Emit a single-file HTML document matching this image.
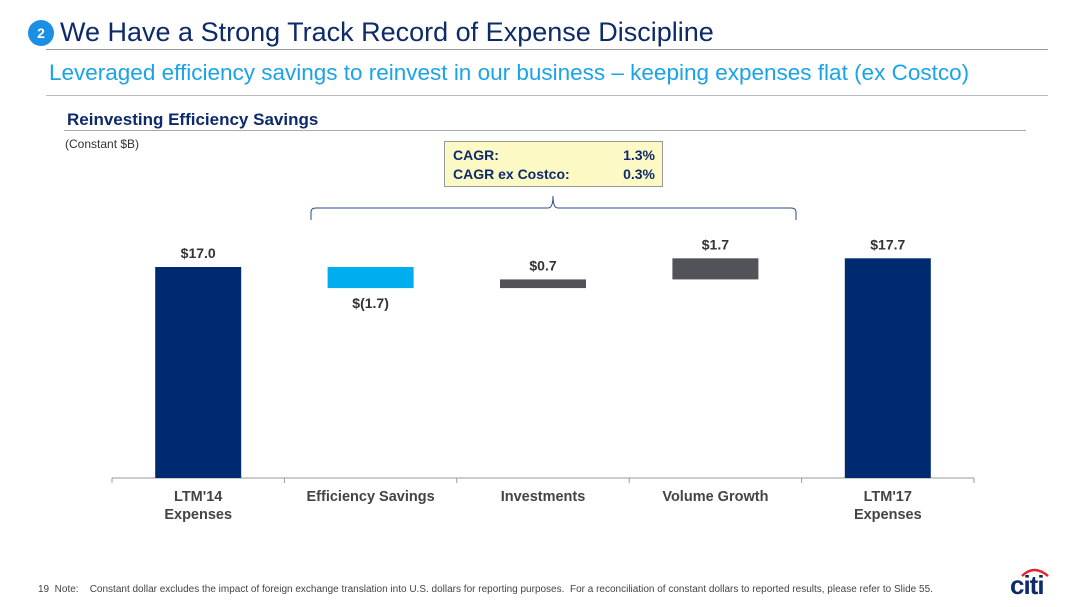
<!DOCTYPE html>
<html><head><meta charset="utf-8"><style>
body{margin:0;width:1080px;height:607px;background:#fff;font-family:"Liberation Sans",sans-serif;position:relative;overflow:hidden}
.a{position:absolute;white-space:nowrap}
</style></head><body>
<div class="a" style="left:28px;top:20px;width:26px;height:26px;border-radius:13px;background:#1a8fe3;color:#fff;font-size:14px;font-weight:bold;text-align:center;line-height:26px">2</div>
<div class="a" style="left:60px;top:17px;font-size:27px;color:#0d2a6b">We Have a Strong Track Record of Expense Discipline</div>
<div class="a" style="left:46px;top:49px;width:1002px;height:1px;background:#999"></div>
<div class="a" style="left:49px;top:60px;font-size:22.5px;color:#1aa3e8">Leveraged efficiency savings to reinvest in our business – keeping expenses flat (ex Costco)</div>
<div class="a" style="left:46px;top:95px;width:1002px;height:1px;background:#bbb"></div>
<div class="a" style="left:67px;top:110px;font-size:17px;font-weight:bold;color:#0d2a6b">Reinvesting Efficiency Savings</div>
<div class="a" style="left:64px;top:130px;width:962px;height:1px;background:#aaa"></div>
<div class="a" style="left:65px;top:137px;font-size:12px;color:#333">(Constant $B)</div>
<div class="a" style="left:444px;top:141px;width:217px;height:44px;background:#fdf9c4;border:1px solid #999;font-size:14px;font-weight:bold;color:#0d2a6b">
<div class="a" style="left:8px;top:5px">CAGR:</div><div class="a" style="right:7px;top:5px">1.3%</div>
<div class="a" style="left:8px;top:24px">CAGR ex Costco:</div><div class="a" style="right:7px;top:24px">0.3%</div></div>
<svg class="a" style="left:0;top:0" width="1080" height="607"><path d="M311 220 L311 212 Q311 208 316 208 L548 208 Q553 208 553 196 Q553 208 558 208 L791 208 Q796 208 796 212 L796 220" fill="none" stroke="#2a4a8a" stroke-width="1"/></svg>
<svg id="chart" class="a" style="left:0;top:0" width="1080" height="607"></svg>
<div class="a" style="left:38px;top:584px;font-size:10px;color:#444">19 &nbsp;Note: &nbsp;&nbsp;&nbsp;Constant dollar excludes the impact of foreign exchange translation into U.S. dollars for reporting purposes. &nbsp;For a reconciliation of constant dollars to reported results, please refer to Slide 55.</div>
<div class="a" style="left:1010px;top:570px;font-size:26px;font-weight:bold;color:#0d2a6b;letter-spacing:-1px">citi</div>
<svg class="a" style="left:1016px;top:566px" width="40" height="12"><path d="M6 10 Q18 -2 32 10" fill="none" stroke="#e3262b" stroke-width="2.5"/></svg>
<script>
const categories=["LTM'14|Expenses","Efficiency Savings","Investments","Volume Growth","LTM'17|Expenses"];
const deltas=[17.0,-1.7,0.7,1.7,17.7];
const kinds=["total","delta","delta","delta","total"];
const valueLabels=["$17.0","$(1.7)","$0.7","$1.7","$17.7"];
const colors={total:"#002a6f",neg:"#00aeef",pos:"#515358"};
const svg=document.getElementById('chart');const NS="http://www.w3.org/2000/svg";
const x0=112,x1=974,base=478,ppu=211/17.0,cw=(x1-x0)/categories.length,bw=86;
const y=v=>base-v*ppu;
function mk(t,a){const e=document.createElementNS(NS,t);for(const k in a)e.setAttribute(k,a[k]);svg.appendChild(e);return e;}
let axis=mk('line',{x1:x0,x2:x1,y1:base,y2:base,stroke:'#999'});


for(let i=0;i<=categories.length;i++){let t=mk('line',{x1:x0+i*cw,x2:x0+i*cw,y1:base,y2:base+5,stroke:'#999'});

}
let run=0;
categories.forEach((c,i)=>{
 let lo,hi,col;
 if(kinds[i]=="total"){lo=0;hi=deltas[i];run=deltas[i];col=colors.total;}
 else{const n=run+deltas[i];lo=Math.min(run,n);hi=Math.max(run,n);col=deltas[i]<0?colors.neg:colors.pos;run=n;}
 const cx=x0+cw*(i+0.5);
 const r=mk('rect',{x:cx-bw/2,y:y(hi),width:bw,height:y(lo)-y(hi),fill:col});
 
 
 const ly=deltas[i]<0?y(lo)+20:y(hi)-9;
 const t=mk('text',{x:cx,y:ly,'text-anchor':'middle','font-size':14,'font-weight':'bold',fill:'#333','font-family':'Liberation Sans'});
 t.textContent=valueLabels[i];
 
 
 c.split('|').forEach((p,j)=>{const l=mk('text',{x:cx,y:base+23+j*18,'text-anchor':'middle','font-size':14.5,'font-weight':'bold',fill:'#444','font-family':'Liberation Sans'});l.textContent=p;
 
 });
});
</script>
</body></html>
